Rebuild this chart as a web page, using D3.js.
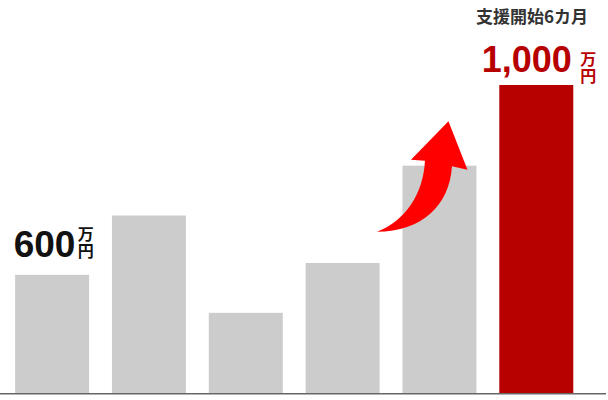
<!DOCTYPE html>
<html>
<head>
<meta charset="utf-8">
<script src="https://cdn.jsdelivr.net/npm/d3@7"></script>
<style>
  html, body { margin: 0; padding: 0; background: #fff; }
  svg { display: block; font-family: "Liberation Sans", Arial, "Noto Sans CJK JP", sans-serif; }
</style>
</head>
<body>
<div id="chart"></div>
<script>
// data (万円)
const categories = ['1', '2', '3', '4', '5', '6'];
const values = [600, 725, 520, 625, 830, 1000];
const highlight = [false, false, false, false, false, true];
const titleText = '支援開始6カ月';
const unitText = '万円';

const width = 608, height = 400;

const svg = d3.select('#chart').append('svg')
  .attr('width', width)
  .attr('height', height);

const x = d3.scaleBand()
  .domain(categories)
  .range([3.7, 584.7])
  .paddingInner(0.236)
  .paddingOuter(0.118);

// axis doesn't start at zero in the original
const y = d3.scaleLinear()
  .domain([350, 1000])
  .range([393.5, 85]);

svg.append('g')
  .selectAll('rect')
  .data(values)
  .join('rect')
    .attr('x', (d, i) => x(categories[i]))
    .attr('y', d => y(d))
    .attr('width', x.bandwidth())
    .attr('height', d => y.range()[0] - y(d))
    .attr('fill', (d, i) => highlight[i] ? '#b70000' : '#cccccc');

// baseline
svg.append('line')
  .attr('x1', 0).attr('x2', 606)
  .attr('y1', 393.7).attr('y2', 393.7)
  .attr('stroke', '#666')
  .attr('stroke-width', 1.6);

// value labels: number + 万円 set vertically to its right
function valueLabel(i, color, dx, dyNum, size, unitDx, unitTop) {
  const bx = x(categories[i]) + dx;
  const base = y(values[i]) - dyNum;
  const g = svg.append('g').attr('fill', color).attr('font-weight', 'bold');
  const t = g.append('text')
    .attr('x', bx)
    .attr('y', base)
    .attr('font-size', size)
    .text(d3.format(',')(values[i]));
  const w = t.node().getComputedTextLength();
  g.append('text')
    .attr('x', bx + w + unitDx)
    .attr('y', base + unitTop)
    .attr('font-size', 16)
    .attr('font-family', '"Noto Sans CJK JP", sans-serif')
    .style('writing-mode', 'vertical-rl')
    .style('letter-spacing', '1.5px')
    .text(unitText);
}

valueLabel(0, '#111', -1.5, 18, 37, 10.5, -31);
valueLabel(5, '#b70000', -17.6, 13.3, 36, 16.5, -21);

// title above last bar
svg.append('text')
  .attr('x', 588)
  .attr('y', 23)
  .attr('text-anchor', 'end')
  .attr('fill', '#333')
  .attr('font-size', 17)
  .attr('font-weight', 'bold')
  .attr('font-family', '"Noto Sans CJK JP", sans-serif')
  .text(titleText);

// curved arrow next to bar 5
const ax = x(categories[4]) + 1, ay = y(values[4]);
const arrow = d3.path();
arrow.moveTo(ax - 26.5, ay + 66);
arrow.bezierCurveTo(ax + 2, ay + 55, ax + 20, ay + 28, ax + 21.5, ay - 5);
arrow.lineTo(ax + 7.5, ay - 6);
arrow.lineTo(ax + 45, ay - 44.5);
arrow.lineTo(ax + 64, ay + 4);
arrow.lineTo(ax + 48.5, ay + 0.5);
arrow.bezierCurveTo(ax + 46, ay + 40, ax + 18, ay + 66, ax - 26.5, ay + 66);
arrow.closePath();

svg.append('path')
  .attr('d', arrow.toString())
  .attr('fill', '#ff0000');
</script>
</body>
</html>
